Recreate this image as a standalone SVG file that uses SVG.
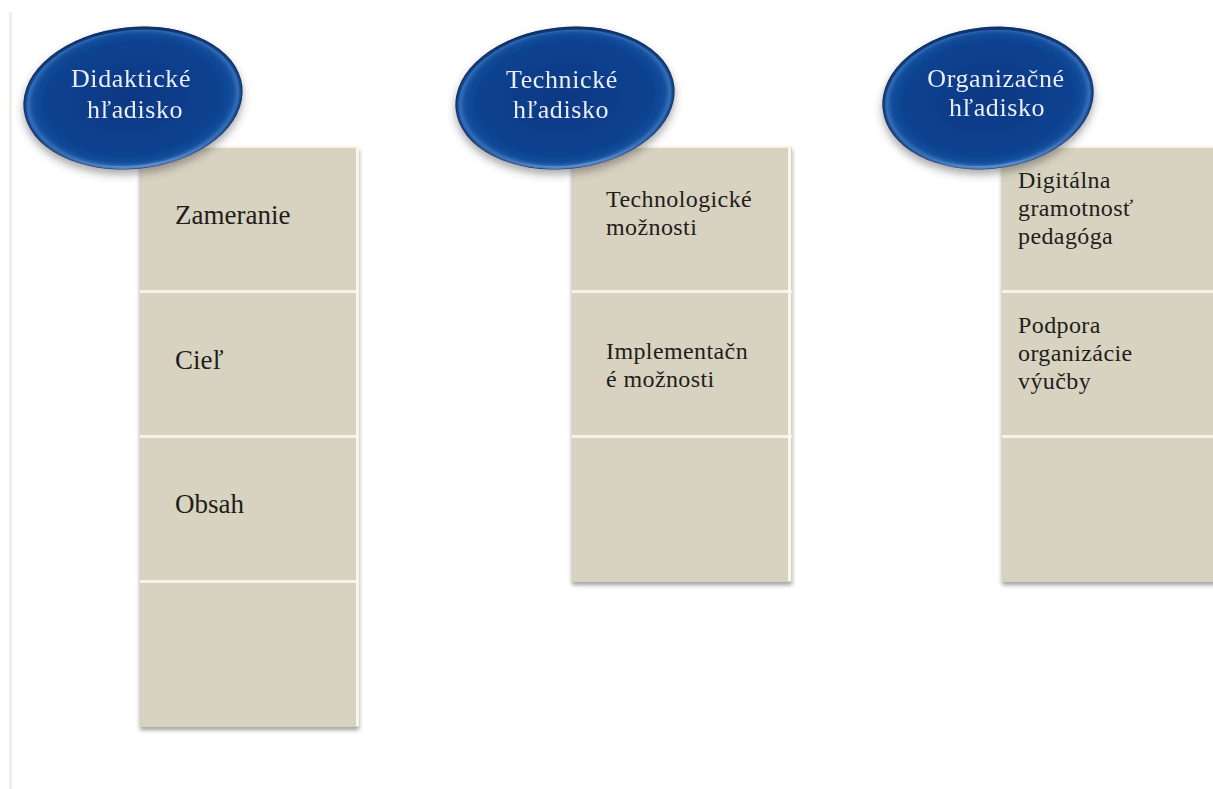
<svg xmlns="http://www.w3.org/2000/svg" width="1213" height="789" viewBox="0 0 1213 789">
  <defs>
    <radialGradient id="gBlue" cx="50%" cy="50%" r="50%">
      <stop offset="0%" stop-color="#0a3883"/>
      <stop offset="80%" stop-color="#0c4290"/>
      <stop offset="91%" stop-color="#134e9c"/>
      <stop offset="96%" stop-color="#3470ba"/>
      <stop offset="100%" stop-color="#092c68"/>
    </radialGradient>
    <linearGradient id="gRim" x1="0" y1="0" x2="0" y2="1">
      <stop offset="0%" stop-color="#0a2a62" stop-opacity="0.8"/>
      <stop offset="60%" stop-color="#0a2a62" stop-opacity="0"/>
      <stop offset="100%" stop-color="#8fb4e6" stop-opacity="0.5"/>
    </linearGradient>
    <filter id="shE" x="-20%" y="-20%" width="140%" height="150%">
      <feDropShadow dx="0" dy="5" stdDeviation="4" flood-color="#404040" flood-opacity="0.45"/>
    </filter>
    <filter id="shB" x="-10%" y="-5%" width="120%" height="110%">
      <feDropShadow dx="0" dy="3" stdDeviation="2.2" flood-color="#505050" flood-opacity="0.55"/>
    </filter>
    <style>
      .ell { fill: url(#gBlue); }
      .rim { fill: none; stroke: url(#gRim); stroke-width: 3; }
      .et { font-family: "Liberation Serif", "DejaVu Serif", serif; font-size: 26px; letter-spacing: 0.6px; fill: #e9eef8; text-anchor: middle; }
      .cell { fill: #d8d2c0; }
      .div { fill: #f7f4e6; }
      .edge { fill: #f9f7ec; }
      .bt { font-family: "Liberation Serif", "DejaVu Serif", serif; font-size: 27px; fill: #1e1e1a; }
      .bm { font-family: "Liberation Serif", "DejaVu Serif", serif; font-size: 24px; letter-spacing: 0.4px; fill: #1e1e1a; }
      .rule { fill: #efefea; }
    </style>
  </defs>

  <rect class="rule" x="9" y="12" width="3" height="777"/>

  <g id="connectors"/>

  <!-- Column 1 -->
  <g id="box-didakticke">
    <g filter="url(#shB)">
      <rect class="cell" x="140" y="147" width="219" height="580"/>
    </g>
    <rect class="div" x="140" y="146" width="219" height="2"/>
    <rect class="div" x="140" y="290" width="219" height="3"/>
    <rect class="div" x="140" y="435" width="219" height="3"/>
    <rect class="div" x="140" y="580" width="219" height="3"/>
    <rect class="edge" x="356" y="146" width="3" height="580"/>
    <text class="bt" x="175" y="224">Zameranie</text>
    <text class="bt" x="175" y="369">Cieľ</text>
    <text class="bt" x="175" y="513">Obsah</text>
  </g>
  <g id="node-didakticke" filter="url(#shE)">
    <ellipse class="ell" cx="133" cy="98" rx="110" ry="71" transform="rotate(-6 133 98)"/>
    <ellipse class="rim" cx="133" cy="98" rx="108" ry="69" transform="rotate(-6 133 98)"/>
    <text class="et"><tspan x="131" y="87">Didaktické</tspan><tspan x="135" y="118">hľadisko</tspan></text>
  </g>

  <!-- Column 2 -->
  <g id="box-technicke">
    <g filter="url(#shB)">
      <rect class="cell" x="572" y="147" width="220" height="435"/>
    </g>
    <rect class="div" x="572" y="146" width="220" height="2"/>
    <rect class="div" x="572" y="290" width="220" height="3"/>
    <rect class="div" x="572" y="435" width="220" height="3"/>
    <rect class="edge" x="788" y="146" width="3" height="435"/>
    <text class="bm"><tspan x="606" y="207">Technologické</tspan><tspan x="606" y="235">možnosti</tspan></text>
    <text class="bm"><tspan x="606" y="359">Implementačn</tspan><tspan x="606" y="387">é možnosti</tspan></text>
  </g>
  <g id="node-technicke" filter="url(#shE)">
    <ellipse class="ell" cx="565" cy="98" rx="110" ry="71" transform="rotate(-6 565 98)"/>
    <ellipse class="rim" cx="565" cy="98" rx="108" ry="69" transform="rotate(-6 565 98)"/>
    <text class="et"><tspan x="562" y="88">Technické</tspan><tspan x="561" y="118">hľadisko</tspan></text>
  </g>

  <!-- Column 3 -->
  <g id="box-organizacne">
    <g filter="url(#shB)">
      <rect class="cell" x="1002" y="147" width="230" height="435"/>
    </g>
    <rect class="div" x="1002" y="146" width="230" height="2"/>
    <rect class="div" x="1002" y="290" width="230" height="3"/>
    <rect class="div" x="1002" y="435" width="230" height="3"/>
    <text class="bm"><tspan x="1018" y="188">Digitálna</tspan><tspan x="1018" y="216">gramotnosť</tspan><tspan x="1018" y="244">pedagóga</tspan></text>
    <text class="bm"><tspan x="1018" y="333">Podpora</tspan><tspan x="1018" y="361">organizácie</tspan><tspan x="1018" y="389">výučby</tspan></text>
  </g>
  <g id="node-organizacne" filter="url(#shE)">
    <ellipse class="ell" cx="988" cy="98" rx="106" ry="71" transform="rotate(-6 988 98)"/>
    <ellipse class="rim" cx="988" cy="98" rx="104" ry="69" transform="rotate(-6 988 98)"/>
    <text class="et"><tspan x="996" y="87">Organizačné</tspan><tspan x="997" y="116">hľadisko</tspan></text>
  </g>
</svg>
